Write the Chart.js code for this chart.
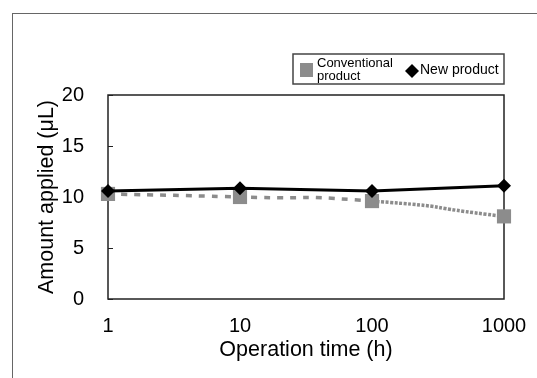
<!DOCTYPE html>
<html>
<head>
<meta charset="utf-8">
<script src="https://cdn.jsdelivr.net/npm/chart.js@4"></script>
<style>
  html, body { margin: 0; padding: 0; background: #fff; overflow: hidden; }
  #wrap { position: relative; width: 537px; height: 378px; }
  #frame { position: absolute; left: 12px; top: 13px; width: 540px; height: 380px;
           border: 1.5px solid #666; box-sizing: border-box; }
  canvas { position: absolute; left: 0; top: 0; }
</style>
</head>
<body>
<div id="wrap">
  <div id="frame"></div>
  <canvas id="chart" width="537" height="378"></canvas>
</div>
<script>
/* ===========================================
   DATA
=========================================== */

const hours = [1, 10, 100, 1000];
const conventional = [10.3, 10.0, 9.6, 8.1];
const newProduct = [10.6, 10.85, 10.6, 11.1];
const seriesNames = [["Conventional", "product"], ["New product"]];
const yTicks = [0, 5, 10, 15, 20];
const xTicks = [1, 10, 100, 1000];

const FONT = "'Liberation Sans', Arial, sans-serif";

/* ===========================================
   PLOT FRAME + INWARD TICKS
=========================================== */

const framePlugin = {
    id: "frame",
    beforeDatasetsDraw(chart) {
        const { ctx, chartArea: a, scales } = chart;
        ctx.save();
        ctx.strokeStyle = "#222";
        ctx.lineWidth = 1.5;
        ctx.strokeRect(a.left, a.top, a.right - a.left, a.bottom - a.top);
        ctx.lineWidth = 1;
        yTicks.forEach(v => {
            const y = Math.round(scales.y.getPixelForValue(v)) + 0.5;
            ctx.beginPath();
            ctx.moveTo(a.left, y);
            ctx.lineTo(a.left + 5, y);
            ctx.stroke();
        });
        ctx.restore();
    }
};

/* ===========================================
   LEGEND BOX
=========================================== */

const legendPlugin = {
    id: "legendBox",
    afterDraw(chart) {
        const ctx = chart.ctx;
        const ds = chart.data.datasets;
        ctx.save();
        ctx.fillStyle = "#fff";
        ctx.fillRect(293, 54, 211, 30);
        ctx.strokeStyle = "#444";
        ctx.lineWidth = 1.5;
        ctx.strokeRect(293, 54, 211, 30);

        // conventional
        ctx.fillStyle = ds[0].pointBackgroundColor;
        ctx.fillRect(300, 63, 13, 14);
        ctx.fillStyle = "#000";
        ctx.font = "13px " + FONT;
        ctx.textBaseline = "middle";
        ctx.fillText(ds[0].label[0], 317, 63);
        ctx.fillText(ds[0].label[1], 317, 76);

        // new product
        ctx.beginPath();
        ctx.moveTo(412, 64);
        ctx.lineTo(419, 71);
        ctx.lineTo(412, 78);
        ctx.lineTo(405, 71);
        ctx.closePath();
        ctx.fill();
        ctx.font = "14px " + FONT;
        ctx.fillText(ds[1].label[0], 420, 70);
        ctx.restore();
    }
};

/* ===========================================
   CHART
=========================================== */

const chart = new Chart(
    document.getElementById("chart"),
    {
        type: "line",
        data: {
            datasets: [
                {
                    label: seriesNames[0],
                    data: hours.map((h, i) => ({ x: h, y: conventional[i] })),
                    borderColor: "#8c8c8c",
                    backgroundColor: "#8c8c8c",
                    pointBackgroundColor: "#8c8c8c",
                    pointBorderWidth: 0,
                    pointStyle: "rect",
                    pointRadius: 10,
                    borderWidth: 3.5,
                    tension: 0.7,
                    segment: {
                        borderDash: ctx => ctx.p0DataIndex < 2 ? [6, 7] : [3, 1.5]
                    },
                    clip: false,
                    order: 2
                },
                {
                    label: seriesNames[1],
                    data: hours.map((h, i) => ({ x: h, y: newProduct[i] })),
                    borderColor: "#000",
                    backgroundColor: "#000",
                    pointBackgroundColor: "#000",
                    pointBorderWidth: 0,
                    pointStyle: "rectRot",
                    pointRadius: 7,
                    borderWidth: 3,
                    tension: 0,
                    clip: false,
                    order: 1
                }
            ]
        },
        options: {
            responsive: false,
            animation: false,
            layout: { padding: { top: 95, right: 33 } },
            plugins: {
                legend: { display: false },
                tooltip: { enabled: false }
            },
            scales: {
                x: {
                    type: "logarithmic",
                    min: 1,
                    max: 1000,
                    afterBuildTicks: s => { s.ticks = xTicks.map(v => ({ value: v })); },
                    afterFit: s => { s.height = 79; },
                    grid: { display: false },
                    border: { display: false },
                    ticks: {
                        color: "#000",
                        font: { family: FONT, size: 20 },
                        padding: 7,
                        maxRotation: 0,
                        callback: v => String(v)
                    },
                    title: {
                        display: true,
                        text: "Operation time (h)",
                        color: "#000",
                        font: { family: FONT, size: 21.5 },
                        padding: { top: 0, bottom: 15 }
                    }
                },
                y: {
                    min: 0,
                    max: 20,
                    afterBuildTicks: s => { s.ticks = yTicks.map(v => ({ value: v })); },
                    afterFit: s => { s.width = 108; },
                    grid: { display: false },
                    border: { display: false },
                    ticks: {
                        color: "#000",
                        font: { family: FONT, size: 20 },
                        padding: 16
                    },
                    title: {
                        display: true,
                        text: "Amount applied (μL)",
                        color: "#000",
                        font: { family: FONT, size: 21.5 },
                        padding: { top: 34, bottom: 0 }
                    }
                }
            }
        },
        plugins: [framePlugin, legendPlugin]
    }
);
</script>
</body>
</html>
